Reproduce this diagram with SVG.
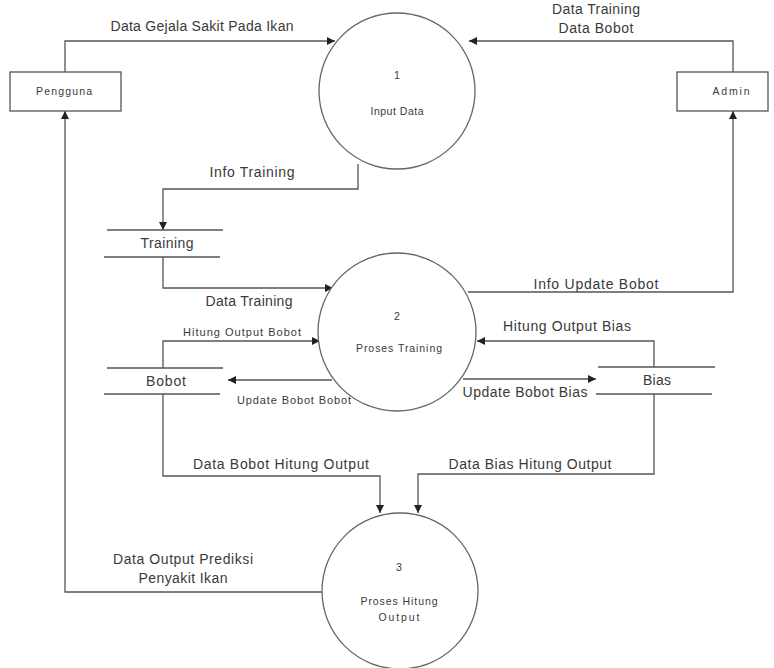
<svg xmlns="http://www.w3.org/2000/svg" width="774" height="668" viewBox="0 0 774 668">
<defs>
<marker id="arr" viewBox="0 0 10 10" refX="10" refY="5" markerWidth="8" markerHeight="8" markerUnits="userSpaceOnUse" orient="auto">
<path d="M0,0 L10,5 L0,10 z" fill="#222"/>
</marker>
</defs>
<style>
.ln{fill:none;stroke:#555;stroke-width:1.3}
.ent{fill:#fff;stroke:#555;stroke-width:1.3}
.proc{fill:#fff;stroke:#666;stroke-width:1.3}
.st{stroke:#555;stroke-width:1.3}
text{font-family:"Liberation Sans",Arial,sans-serif;fill:#3a3a3a;text-anchor:middle}
.lbl{font-size:14px}
.sm{font-size:11px}
.xs{font-size:10.5px}
</style>
<rect width="774" height="668" fill="#fff"/>
<g id="connectors">
<polyline class="ln" points="65,72 65,41 335,41" marker-end="url(#arr)"/>
<polyline class="ln" points="733,72 733,41 469,41" marker-end="url(#arr)"/>
<polyline class="ln" points="358,164 358,189 163,189 163,230" marker-end="url(#arr)"/>
<polyline class="ln" points="163,257 163,288 333,288" marker-end="url(#arr)"/>
<polyline class="ln" points="468,292 733,292 733,111" marker-end="url(#arr)"/>
<polyline class="ln" points="163,368 163,341 320,341" marker-end="url(#arr)"/>
<polyline class="ln" points="332,380 228,380" marker-end="url(#arr)"/>
<polyline class="ln" points="654,367 654,341 477,341" marker-end="url(#arr)"/>
<polyline class="ln" points="463,379 596,379" marker-end="url(#arr)"/>
<polyline class="ln" points="163,394 163,476 380,476 380,513" marker-end="url(#arr)"/>
<polyline class="ln" points="654,394 654,474 418,474 418,513" marker-end="url(#arr)"/>
<polyline class="ln" points="322,592 65,592 65,111" marker-end="url(#arr)"/>
<text class="lbl" x="202" y="31" textLength="183">Data Gejala Sakit Pada Ikan</text>
<text class="lbl" x="596" y="14" textLength="88">Data Training</text>
<text class="lbl" x="596" y="33" textLength="75">Data Bobot</text>
<text class="lbl" x="252" y="177" textLength="85">Info Training</text>
<text class="lbl" x="249" y="306" textLength="87">Data Training</text>
<text class="lbl" x="596" y="289" textLength="125">Info Update Bobot</text>
<text class="sm" x="242" y="336" textLength="118">Hitung Output Bobot</text>
<text class="sm" x="294" y="404" textLength="114">Update Bobot Bobot</text>
<text class="lbl" x="567" y="331" textLength="128">Hitung Output Bias</text>
<text class="lbl" x="525" y="397" textLength="125">Update Bobot Bias</text>
<text class="lbl" x="281" y="469" textLength="176">Data Bobot Hitung Output</text>
<text class="lbl" x="530" y="469" textLength="163">Data Bias Hitung Output</text>
<text class="lbl" x="183" y="564" textLength="140">Data Output Prediksi</text>
<text class="lbl" x="183" y="583" textLength="89">Penyakit Ikan</text>
</g>
<g id="pengguna">
<rect class="ent" x="10" y="72" width="111" height="39"/>
<text class="xs" x="64" y="95" textLength="56">Pengguna</text>
</g>
<g id="admin">
<rect class="ent" x="677" y="72" width="91" height="39"/>
<text class="xs" x="731" y="95" textLength="37">Admin</text>
</g>
<g id="p1">
<circle class="proc" cx="397" cy="91" r="78"/>
<text class="xs" x="397" y="79">1</text>
<text class="xs" x="397" y="115" textLength="53">Input Data</text>
</g>
<g id="p2">
<circle class="proc" cx="397" cy="332" r="79"/>
<text class="xs" x="397" y="320">2</text>
<text class="xs" x="399" y="352" textLength="86">Proses Training</text>
</g>
<g id="p3">
<circle class="proc" cx="400" cy="591" r="78"/>
<text class="xs" x="399" y="571">3</text>
<text class="xs" x="399" y="605" textLength="77">Proses Hitung</text>
<text class="xs" x="399" y="621" textLength="41">Output</text>
</g>
<g id="training">
<line class="st" x1="107" y1="230" x2="223" y2="230"/>
<line class="st" x1="104" y1="257" x2="220" y2="257"/>
<text class="lbl" x="167" y="248" textLength="53">Training</text>
</g>
<g id="bobot">
<line class="st" x1="107" y1="368" x2="223" y2="368"/>
<line class="st" x1="104" y1="394" x2="220" y2="394"/>
<text class="lbl" x="166" y="386" textLength="40">Bobot</text>
</g>
<g id="bias">
<line class="st" x1="598" y1="367" x2="715" y2="367"/>
<line class="st" x1="596" y1="394" x2="712" y2="394"/>
<text class="lbl" x="657" y="385" textLength="28">Bias</text>
</g>
</svg>
